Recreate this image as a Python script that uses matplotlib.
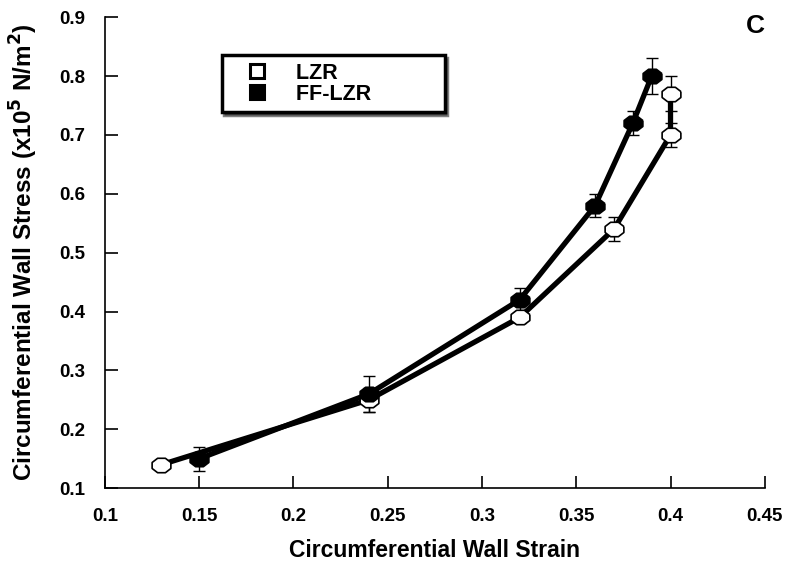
import matplotlib
matplotlib.use("Agg")
import matplotlib.pyplot as plt
from matplotlib.lines import Line2D
import numpy as np

plt.rcParams['font.family'] = ['Liberation Sans', 'DejaVu Sans']
plt.rcParams['font.weight'] = 'bold'

# LZR (open symbols)
lzr_strain = [0.13, 0.24, 0.32, 0.37, 0.40, 0.40]
lzr_stress = [0.14, 0.25, 0.39, 0.54, 0.70, 0.77]
lzr_err = [0.0, 0.02, 0.01, 0.02, 0.02, 0.03]

# FF-LZR (filled symbols)
ff_strain = [0.15, 0.24, 0.32, 0.36, 0.38, 0.39]
ff_stress = [0.15, 0.26, 0.42, 0.58, 0.72, 0.80]
ff_err = [0.02, 0.03, 0.02, 0.02, 0.02, 0.03]

xticks = [0.1, 0.15, 0.2, 0.25, 0.3, 0.35, 0.4, 0.45]
yticks = [0.1, 0.2, 0.3, 0.4, 0.5, 0.6, 0.7, 0.8, 0.9]

# slightly squashed octagon, like the original symbols
t = np.linspace(0, 2 * np.pi, 9) + np.pi / 8
oct_marker = list(zip(1.3 * np.cos(t), np.sin(t)))

fig = plt.figure(figsize=(8, 5.73), dpi=100)
ax = fig.add_axes([0.131, 0.148, 0.825, 0.822])

for xs, ys, es, fc in [(lzr_strain, lzr_stress, lzr_err, 'white'),
                       (ff_strain, ff_stress, ff_err, 'black')]:
    ax.plot(xs, ys, color='black', lw=3.8, zorder=2)
    ax.errorbar(xs, ys, yerr=es, fmt='none', ecolor='black', elinewidth=1,
                capsize=4, capthick=1, zorder=3)
    ax.plot(xs, ys, ls='none', marker=oct_marker, ms=13.5, mfc=fc,
            mec='black', mew=1.2, zorder=4)

ax.set_xlim(0.1, 0.45)
ax.set_ylim(0.1, 0.9)
ax.set_xticks(xticks)
ax.set_yticks(yticks)
ax.set_xticklabels([f"{v:g}" for v in xticks])
ax.set_yticklabels([f"{v:g}" for v in yticks])
ax.spines['top'].set_visible(False)
ax.spines['right'].set_visible(False)
for s in ['left', 'bottom']:
    ax.spines[s].set_linewidth(1.2)
ax.tick_params(direction='in', length=9, width=1.2, labelsize=13.5, pad=14)

ax.set_xlabel('Circumferential Wall Strain', fontsize=16.5, fontweight='bold', labelpad=10)
ax.set_ylabel('Circumferential Wall Stress (x10$^\\mathbf{5}$ N/m$^\\mathbf{2}$)',
              fontsize=17.5, fontweight='bold', labelpad=14)

handles = [Line2D([], [], ls='none', marker='s', ms=10, mfc='white', mec='black', mew=2.2),
           Line2D([], [], ls='none', marker='s', ms=10, mfc='black', mec='black', mew=2.2)]
leg = ax.legend(handles, ['LZR              ', 'FF-LZR           '], loc='upper left',
                bbox_to_anchor=(0.177, 0.919), fontsize=15.5, frameon=True,
                fancybox=False, shadow={'color': 'black'}, labelspacing=0.0,
                handletextpad=0.5, borderpad=0.35, handlelength=2.6,
                borderaxespad=0)
leg.get_frame().set_edgecolor('black')
leg.get_frame().set_linewidth(2.5)
for txt in leg.get_texts():
    txt.set_fontweight('bold')

fig.text(0.944, 0.955, 'C', fontsize=19, fontweight='bold', ha='center', va='center')

fig.savefig('out.png', dpi=100)
